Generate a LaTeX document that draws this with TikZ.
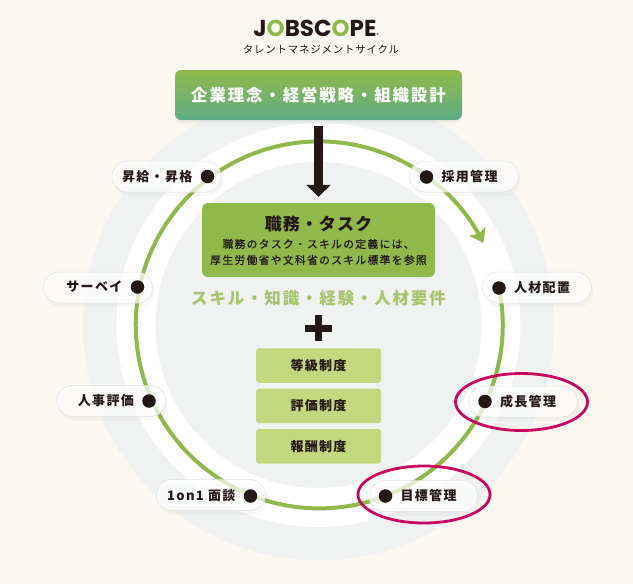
\documentclass[tikz,border=0pt]{standalone}
\usepackage{fontspec}
\usepackage{xcolor}
\usetikzlibrary{shapes.geometric,arrows.meta,bending,positioning,shadows}
\setmainfont{Noto Sans CJK JP}
\newfontfamily\logofont{Poppins}
\definecolor{pagebg}{HTML}{FBF8F1}
\definecolor{discgrey}{HTML}{F0F1F1}
\definecolor{ringgreen}{HTML}{8FB94B}
\definecolor{tealgreen}{HTML}{5FAC85}
\definecolor{inkblack}{HTML}{231815}
\definecolor{pinkmark}{HTML}{C8065F}
\definecolor{softgreen}{HTML}{A5C56C}
\definecolor{palegreen}{HTML}{C3D77E}

\begin{document}
\begin{tikzpicture}[
    x=1pt, y=-1pt,
    pill/.style={rounded corners=15.5pt, draw=black!12, line width=.5pt, fill=white, fill opacity=.72, minimum width=109pt, minimum height=31pt, inner sep=0pt, drop shadow={shadow xshift=2pt, shadow yshift=-4pt, opacity=.06}},
    pilltext/.style={inner sep=0pt, text=inkblack, font=\fontsize{13}{15}\selectfont\bfseries\addfontfeature{LetterSpace=10}},
    dot/.style={circle, fill=inkblack, minimum size=13.5pt, inner sep=0pt},
    pinkring/.style={ellipse, draw=pinkmark, line width=2.8pt, minimum width=132pt, minimum height=57pt, inner sep=0pt},
    seido/.style={rectangle, rounded corners=3pt, fill=palegreen, minimum width=125pt, minimum height=34.5pt, text=inkblack, font=\fontsize{13}{15}\selectfont\bfseries\addfontfeature{LetterSpace=10}},
    ring/.style={draw=ringgreen, line width=4pt},
    bigarrow/.style={-{Triangle[width=24pt,length=12pt]}, line width=9pt, draw=inkblack, shorten >=6pt, shorten <=6pt}
]
% background and discs
\fill[pagebg] (0,0) rectangle (633,584);
\fill[discgrey] (318.5,325) circle[radius=235.5];
\fill[white] (318.5,325) circle[radius=202];
\fill[discgrey] (318.5,325) circle[radius=163];

% dots on the ring
\coordinate (ringstart) at (499,288);
\draw[ring, -{Stealth[width=18pt,length=13pt,inset=2.5pt,flex]}] (ringstart) arc[start angle=-11.6, end angle=333.5, radius=183.5];

% title
\node[inner sep=0pt, text=inkblack, font=\logofont\fontsize{23}{25}\selectfont\bfseries] (logo) at (316,28) {J{\color{ringgreen}O}BSC{\color{ringgreen}O}PE{\fontsize{4}{5}\selectfont ®}};
\node[below=8pt of logo, xshift=5pt, inner sep=0pt, text=inkblack, font=\fontsize{10.5}{12}\selectfont\addfontfeature{LetterSpace=7}] (subtitle) {タレントマネジメントサイクル};

% centre column
\node[rectangle, rounded corners=6pt, top color=ringgreen, bottom color=tealgreen, minimum width=287pt, minimum height=50pt, text=white, font=\fontsize{16.5}{18}\selectfont\bfseries\addfontfeature{LetterSpace=11}, drop shadow={shadow xshift=0pt, shadow yshift=-3pt, opacity=.08}] (vision) at (318.5,95) {企業理念・経営戦略・組織設計};
\node[rectangle, rounded corners=6pt, fill=ringgreen, minimum width=233pt, minimum height=74pt, inner sep=0pt] (task) at (318.5,240) {};
\node[inner sep=0pt, text=inkblack, font=\fontsize{17}{19}\selectfont\bfseries\addfontfeature{LetterSpace=6}] (tasktitle) at (318.5,224) {職務・タスク};
\node[inner sep=0pt, align=center, text=inkblack, font=\fontsize{10.8}{16}\selectfont\addfontfeature{LetterSpace=12,FakeBold=0.4}] (tasknote) at (318.5,252) {職務のタスク・スキルの定義には、\\厚生労働省や文科省のスキル標準を参照};
\draw[bigarrow] (vision) -- (task);
\node[inner sep=0pt, text=softgreen, font=\fontsize{16.5}{18}\selectfont\bfseries\addfontfeature{LetterSpace=11}] (skills) at (318.5,298) {スキル・知識・経験・人材要件};
\coordinate (plus) at (318.5,328);
\draw[inkblack, line width=7pt] ([xshift=-13.5pt]plus) -- ([xshift=13.5pt]plus);
\draw[inkblack, line width=7pt] ([yshift=-13pt]plus) -- ([yshift=13pt]plus);
\node[seido] (tokyu) at (318.5,365.5) {等級制度};
\node[seido, below=5.5pt of tokyu] (hyoka) {評価制度};
\node[seido, below=5.5pt of hyoka] (hoshu) {報酬制度};

% pills, clockwise from the top right
\node[pill] (saiyo) at (464,176.5) {};
\node[dot] (dsaiyo) at (426.5,177) {};
\node[pilltext, right=8pt of dsaiyo] (tsaiyo) {採用管理};
\node[pill] (haichi) at (537,287.5) {};
\node[dot] (dhaichi) at (499,288) {};
\node[pilltext, right=8pt of dhaichi] (thaichi) {人材配置};
\node[pill] (seicho) at (523,401.5) {};
\node[dot] (dseicho) at (485,401.5) {};
\node[pilltext, right=8pt of dseicho] (tseicho) {成長管理};
\node[pill] (mokuhyo) at (423.5,496) {};
\node[dot] (dmokuhyo) at (385.5,496) {};
\node[pilltext, right=8pt of dmokuhyo] (tmokuhyo) {目標管理};
\node[pill] (menchan) at (211,495) {};
\node[dot] (dmenchan) at (250.5,496) {};
\node[pilltext, left=8pt of dmenchan] (tmenchan) {1on1 面談};
\node[pill] (jinji) at (111.5,401) {};
\node[dot] (djinji) at (149,401) {};
\node[pilltext, left=8pt of djinji] (tjinji) {人事評価};
\node[pill] (survey) at (98,287.5) {};
\node[dot] (dsurvey) at (137.5,287) {};
\node[pilltext, left=8pt of dsurvey] (tsurvey) {サーベイ};
\node[pill] (shokyu) at (166.5,176.5) {};
\node[dot] (dshokyu) at (207.5,176.5) {};
\node[pilltext, left=8pt of dshokyu] (tshokyu) {昇給・昇格};

% marked items
\node[pinkring] (markseicho) at (521.5,402) {};
\node[pinkring] (markmokuhyo) at (424,494.5) {};
\end{tikzpicture}
\end{document}
